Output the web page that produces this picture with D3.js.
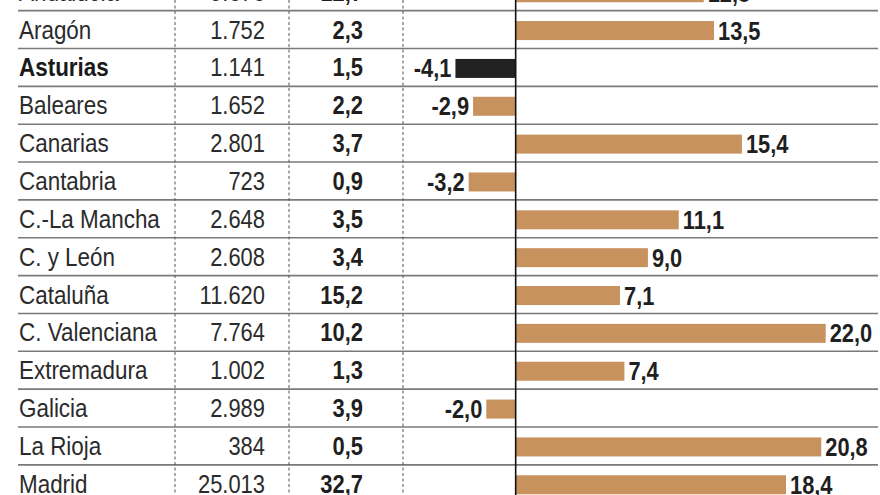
<!DOCTYPE html>
<html lang="es">
<head>
<meta charset="UTF-8">
<title>Comunidades</title>
<script src="https://d3js.org/d3.v7.min.js"></script>
<style>
  body { margin: 0; background: #fff; }
  svg { display: block; }
  text { font-family: "Liberation Sans Narrow", "Arial Narrow", sans-serif; fill: #2b2b2b; }
  .name { font-size: 25.5px; }
  .name.hl { font-weight: bold; fill: #1a1a1a; }
  .num { font-size: 25.5px; text-anchor: end; }
  .pct { font-size: 25.5px; font-weight: bold; text-anchor: end; fill: #1f1f1f; }
  .lbl { font-size: 26px; font-weight: bold; fill: #1f1f1f; }
  .row-line { stroke: #7a7a7a; stroke-width: 1.6; }
  .dash { stroke: #555; stroke-width: 1; stroke-dasharray: 3 2.5; }
  .zero { stroke: #111; stroke-width: 1.6; }
</style>
</head>
<body>
<svg width="880" height="495"></svg>
<script>
// datos por comunidad (la primera fila queda cortada arriba)
const regions = ["Andalucía", "Aragón", "Asturias", "Baleares", "Canarias", "Cantabria",
  "C.-La Mancha", "C. y León", "Cataluña", "C. Valenciana", "Extremadura", "Galicia",
  "La Rioja", "Madrid"];
const totals = [9676, 1752, 1141, 1652, 2801, 723, 2648, 2608, 11620, 7764, 1002, 2989, 384, 25013];
const shares = [12.7, 2.3, 1.5, 2.2, 3.7, 0.9, 3.5, 3.4, 15.2, 10.2, 1.3, 3.9, 0.5, 32.7];
const changes = [12.8, 13.5, -4.1, -2.9, 15.4, -3.2, 11.1, 9.0, 7.1, 22.0, 7.4, -2.0, 20.8, 18.4];
const highlight = "Asturias";

const es = d3.formatLocale({ decimal: ",", thousands: ".", grouping: [3], currency: ["", " €"], minus: "-" });
const fmtInt = es.format(",d");
const fmt1 = es.format(".1f");

const rows = regions.map((r, i) => ({ name: r, total: totals[i], share: shares[i], change: changes[i] }));

const svg = d3.select("svg");

const y = d3.scaleBand()
  .domain(regions)
  .range([-27.2, -27.2 + 37.85 * regions.length]);

// escala de la variación; la barra más larga se recorta para que quepa
const x = d3.scaleLinear()
  .domain([-4.1, 21.1])
  .range([515.5 - 4.1 * 14.65, 515.5 + 21.1 * 14.7])
  .clamp(true);

const colName = 19, colNum = 265, colPct = 363;
const dashX = [175, 289, 403];

// líneas horizontales
svg.append("g").selectAll("line")
  .data(rows.slice(1))
  .join("line")
  .attr("class", "row-line")
  .attr("x1", 18).attr("x2", 878)
  .attr("y1", d => y(d.name)).attr("y2", d => y(d.name));

// separadores punteados
svg.append("g").selectAll("line")
  .data(dashX)
  .join("line")
  .attr("class", "dash")
  .attr("x1", d => d).attr("x2", d => d)
  .attr("y1", 0).attr("y2", 495);

const bh = 19;
const g = svg.append("g").selectAll("g")
  .data(rows)
  .join("g")
  .attr("transform", d => `translate(0,${y(d.name) + y.bandwidth() / 2})`);

// la tipografía original es más estrecha: se comprime en horizontal
function narrow(sel, px, py, sx) {
  return sel.attr("transform", d => `translate(${px(d)},${py}) scale(${sx},1)`);
}

narrow(g.append("text"), () => colName, 9, 0.88)
  .attr("class", d => d.name === highlight ? "name hl" : "name")
  .text(d => d.name);

narrow(g.append("text"), () => colNum, 9, 0.86)
  .attr("class", "num")
  .text(d => fmtInt(d.total));

narrow(g.append("text"), () => colPct, 9, 0.86)
  .attr("class", "pct")
  .text(d => fmt1(d.share));

g.append("rect")
  .attr("x", d => Math.min(x(0), x(d.change)))
  .attr("width", d => Math.abs(x(d.change) - x(0)))
  .attr("y", -bh / 2 + 1)
  .attr("height", bh)
  .attr("fill", d => d.name === highlight ? "#222222" : "#c8925f");

narrow(g.append("text"), d => d.change < 0 ? x(d.change) - 4 : x(d.change) + 4, 10, 0.84)
  .attr("class", "lbl")
  .attr("text-anchor", d => d.change < 0 ? "end" : "start")
  .text(d => fmt1(d.change));

// eje cero
svg.append("line")
  .attr("class", "zero")
  .attr("x1", x(0)).attr("x2", x(0))
  .attr("y1", 0).attr("y2", 495);
</script>
</body>
</html>
